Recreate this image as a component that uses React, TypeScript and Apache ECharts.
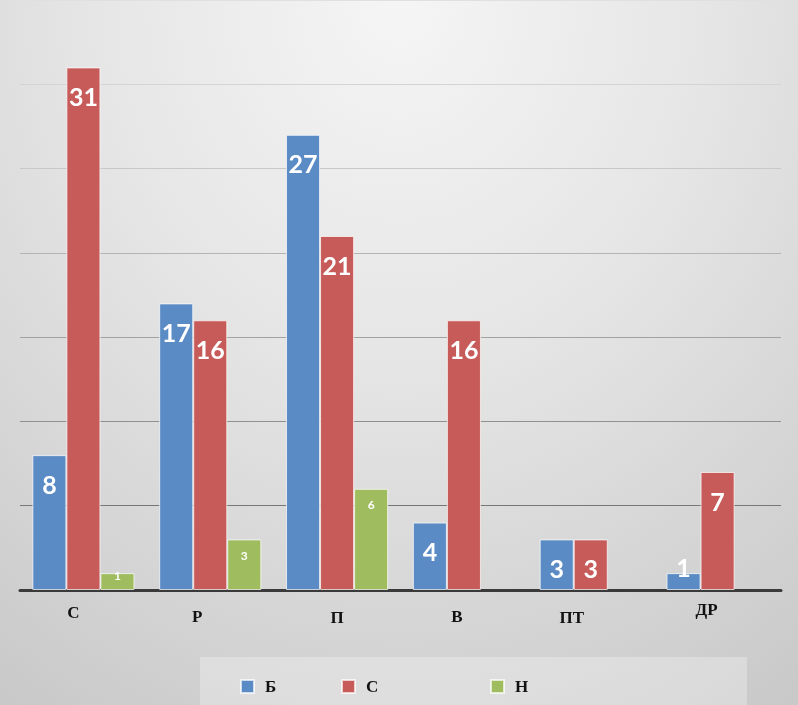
import React, { useEffect, useRef } from "react";
import * as echarts from "echarts";

const categories = ["С", "Р", "П", "В", "ПТ", "ДР"];
const seriesNames = ["Б", "С", "Н"];
const valuesB = [8, 17, 27, 4, 3, 1];
const valuesS = [31, 16, 21, 16, 3, 7];
const valuesN: (number | null)[] = [1, 3, 6, null, null, null];
const yTicks = [0, 5, 10, 15, 20, 25, 30, 35];

const colors = ["#5B8BC4", "#C65B5A", "#9FBD5F"];
const labelShift = [-10, -13, 0, -7, -19, -11];
const labelDrop = [0, 4, 5, 4, 5, -3];

export default function App() {
  const ref = useRef<HTMLDivElement>(null);
  useEffect(() => {
    if (!ref.current) return;
    const chart = echarts.init(ref.current, undefined, { renderer: "svg" });
    const bigLabel = {
      show: true,
      position: "insideTop" as const,
      distance: 16,
      color: "#ffffff",
      fontFamily: "Lato",
      fontWeight: "bold" as const,
      fontSize: 25,
    };
    const smallLabel = {
      show: true,
      position: "insideTop" as const,
      distance: 10,
      color: "#ffffff",
      fontFamily: "Lato",
      fontWeight: "bold" as const,
      fontSize: 12,
    };
    const mk = (vals: (number | null)[], small: boolean) =>
      vals.map((v) => {
        if (v === null) return null;
        if (v <= 1) {
          return {
            value: v,
            label: { position: "top", distance: small ? -8 : -6 },
          };
        }
        return v;
      });
    const legendBase = (name: string, left: number) => ({
      data: [name],
      left,
      top: 673,
      itemWidth: 13,
      itemHeight: 13,
      icon: "rect",
      textStyle: {
        fontFamily: "Liberation Serif",
        fontWeight: "bold",
        fontSize: 17,
        color: "#111",
        padding: [4, 0, 0, 6],
      },
      selectedMode: false,
    });
    const gridColors = ["#404040", "#777777", "#909090", "#a2a2a2", "#b4b4b4", "#c8c8c8", "#d4d4d4", "#e0e0e0"];
    chart.setOption({
      animation: false,
      backgroundColor: "transparent",
      color: colors,
      grid: { left: 20, right: 17, top: -1.5, bottom: 115, containLabel: false },
      legend: [
        legendBase(seriesNames[0], 235),
        legendBase(seriesNames[1], 336),
        legendBase(seriesNames[2], 485),
      ],
      graphic: [
        {
          type: "rect",
          shape: { x: 200, y: 657, width: 547, height: 50 },
          style: { fill: "rgba(255,255,255,0.28)" },
          z: -1,
        },
      ],
      xAxis: {
        type: "category",
        data: categories.map((c, i) => ({
          value: c,
          textStyle: { padding: [labelDrop[i], labelShift[i] < 0 ? -labelShift[i] * 2 : 0, 0, 0] },
        })),
        axisLine: { lineStyle: { color: "#3a3a3a", width: 3 } },
        axisTick: { show: false },
        axisLabel: {
          margin: 14,
          fontFamily: "Liberation Serif",
          fontWeight: "bold",
          fontSize: 17,
          color: "#111",
        },
      },
      yAxis: {
        type: "value",
        min: yTicks[0],
        max: yTicks[yTicks.length - 1],
        interval: yTicks[1] - yTicks[0],
        axisLabel: { show: false },
        axisLine: { show: false },
        axisTick: { show: false },
        splitLine: { lineStyle: { color: gridColors, width: 1 } },
      },
      series: [
        {
          name: seriesNames[0],
          type: "bar",
          data: mk(valuesB, false),
          barGap: "0%",
          barCategoryGap: "19.5%",
          itemStyle: { borderColor: "rgba(255,255,255,0.7)", borderWidth: 1 },
          label: bigLabel,
        },
        {
          name: seriesNames[1],
          type: "bar",
          data: mk(valuesS, false),
          barGap: "0%",
          barCategoryGap: "19.5%",
          itemStyle: { borderColor: "rgba(255,255,255,0.7)", borderWidth: 1 },
          label: bigLabel,
        },
        {
          name: seriesNames[2],
          type: "bar",
          data: mk(valuesN, true),
          barGap: "0%",
          barCategoryGap: "19.5%",
          itemStyle: { borderColor: "rgba(255,255,255,0.7)", borderWidth: 1 },
          label: smallLabel,
        },
      ],
    });
    return () => chart.dispose();
  }, []);
  return (
    <div
      style={{
        position: "fixed",
        left: 0,
        top: 0,
        width: 798,
        height: 705,
        background:
          "radial-gradient(ellipse 95% 125% at 50% 0%, #f5f5f5 0%, #e6e6e6 40%, #d6d6d6 70%, #c6c6c6 100%)",
      }}
    >
      <div ref={ref} style={{ width: 798, height: 705 }} />
    </div>
  );
}
